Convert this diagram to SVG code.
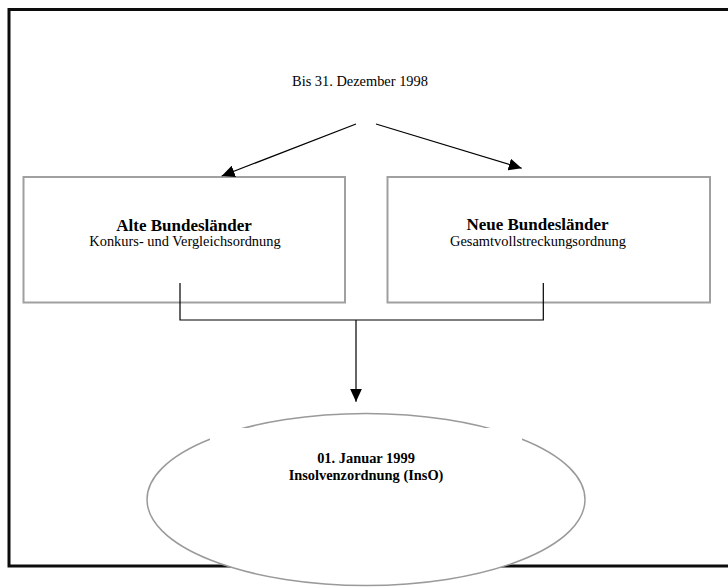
<svg xmlns="http://www.w3.org/2000/svg" width="728" height="587" viewBox="0 0 728 587">
<style>
.t{font-family:"Liberation Serif","Times New Roman",serif;fill:#000;text-anchor:middle}
.r{font-size:14.4px}
.b{font-weight:bold}
.h{font-size:17px}
.box{fill:#fff;stroke:#a0a0a0;stroke-width:2}
.c{stroke:#000;stroke-width:1.2;fill:none}
</style>
<defs>
<marker id="ah" markerUnits="userSpaceOnUse" markerWidth="14" markerHeight="12" viewBox="0 0 14 12" refX="13" refY="6" orient="auto">
<path d="M0,0 L13,6 L0,12 Z" fill="#000"/>
</marker>
</defs>
<rect width="728" height="587" fill="#fff"/>
<path id="frame" d="M728,9.5 H9 V566 H728" fill="none" stroke="#0c0c0c" stroke-width="3"/>
<g id="start">
<text class="t r" x="360" y="86">Bis 31. Dezember 1998</text>
</g>
<g id="alte">
<rect class="box" x="23.5" y="177" width="321.5" height="125.5"/>
<text class="t b h" x="184" y="230.5">Alte Bundesländer</text>
<text class="t r" x="185" y="246">Konkurs- und Vergleichsordnung</text>
</g>
<g id="neue">
<rect class="box" x="387.5" y="177" width="322.5" height="125.5"/>
<text class="t b h" x="537.5" y="230">Neue Bundesländer</text>
<text class="t r" x="538" y="246">Gesamtvollstreckungsordnung</text>
</g>
<g id="connectors">
<line class="c" x1="356" y1="124" x2="221.7" y2="176" marker-end="url(#ah)"/>
<line class="c" x1="376" y1="124" x2="521.7" y2="168.3" marker-end="url(#ah)"/>
<polyline class="c" points="180,283 180,320 543.3,320 543.3,283"/>
<line class="c" x1="356" y1="320" x2="356" y2="401.7" marker-end="url(#ah)"/>
</g>
<g id="inso">
<ellipse cx="366" cy="499.5" rx="219" ry="86" fill="#fff" stroke="#9a9a9a" stroke-width="1.5"/>
<rect x="210" y="428" width="312" height="122" fill="#fff"/>
<text class="t b r" x="366" y="463.3">01. Januar 1999</text>
<text class="t b r" x="366" y="480">Insolvenzordnung (InsO)</text>
</g>
</svg>
